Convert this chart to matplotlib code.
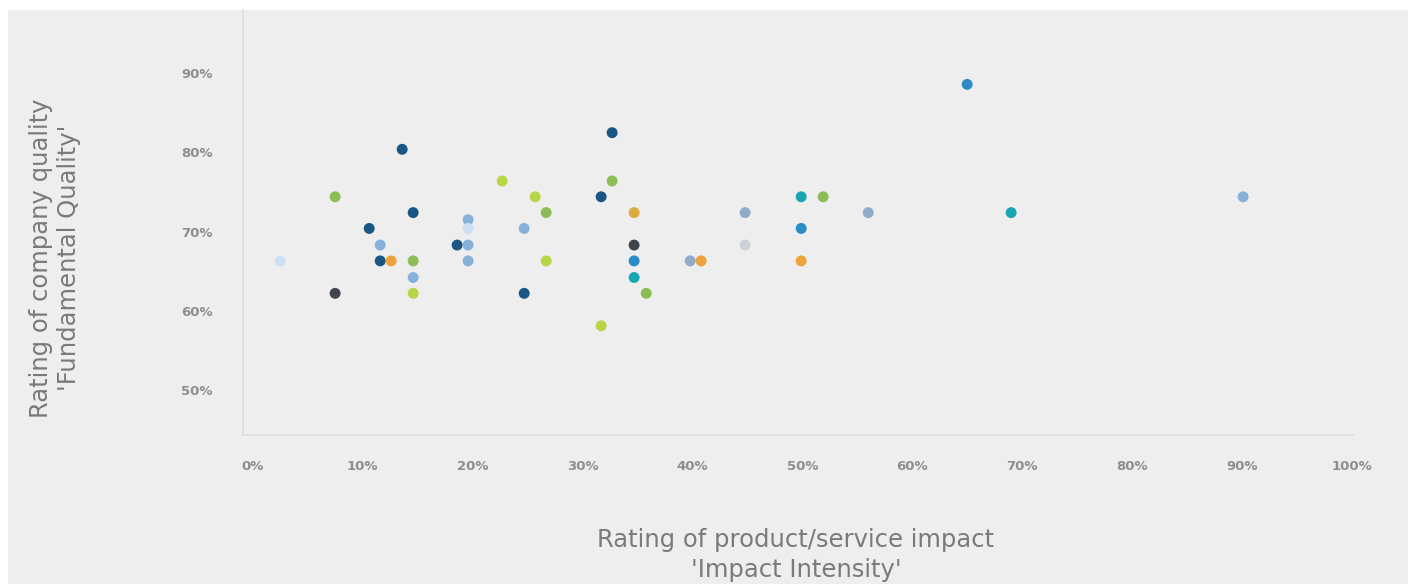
import matplotlib
matplotlib.use("Agg")
import matplotlib.pyplot as plt
from matplotlib.patches import Rectangle
from matplotlib.ticker import PercentFormatter

# Impact intensity (x, %) and fundamental quality (y, %) per company
impact = [2.5, 7.5, 7.5, 10.6, 11.6, 11.6, 12.6, 13.6, 14.6, 14.6, 14.6, 14.6,
          18.6, 19.6, 19.6, 19.6, 19.6, 22.7, 24.7, 24.7, 25.7, 26.7, 26.7,
          31.7, 31.7, 32.7, 32.7, 34.7, 34.7, 34.7, 34.7, 35.8, 39.8, 40.8,
          44.8, 44.8, 49.9, 51.9, 49.9, 49.9, 56.0, 65.0, 69.0, 90.1]
quality = [66.3, 74.4, 62.2, 70.4, 68.3, 66.3, 66.3, 80.4, 72.4, 66.3, 64.2, 62.2,
           68.3, 68.3, 71.5, 70.4, 66.3, 76.4, 70.4, 62.2, 74.4, 72.4, 66.3,
           74.4, 58.1, 82.5, 76.4, 72.4, 68.3, 66.3, 64.2, 62.2, 66.3, 66.3,
           72.4, 68.3, 74.4, 74.4, 70.4, 66.3, 72.4, 88.6, 72.4, 74.4]
group = ["pale", "green", "charcoal", "navy", "sky", "navy", "orange", "navy",
         "navy", "green", "sky", "lime", "navy", "sky", "sky", "pale", "sky",
         "lime", "sky", "navy", "lime", "green", "lime", "navy", "lime", "navy",
         "green", "gold", "charcoal", "blue", "teal", "green", "steel", "orange",
         "steel", "silver", "teal", "green", "blue", "orange", "steel", "blue",
         "teal", "sky"]

x_ticks = [0, 10, 20, 30, 40, 50, 60, 70, 80, 90, 100]
y_ticks = [50, 60, 70, 80, 90]

palette = {
    "navy": "#195683", "charcoal": "#3f444c", "green": "#8dbd55",
    "lime": "#b6d547", "sky": "#86b1da", "pale": "#cde0f2",
    "orange": "#eea23b", "gold": "#ddaa3c", "teal": "#17a6b2",
    "blue": "#2b8bc6", "steel": "#8eacc9", "silver": "#cbd1d8",
}

W, H = 1410, 584
fig = plt.figure(figsize=(W / 100, H / 100), dpi=100, facecolor="white")
fig.patches.append(Rectangle((8 / W, 0), 1400 / W, 574 / H,
                             transform=fig.transFigure, facecolor="#eeeeee",
                             edgecolor="none", zorder=-10))

ax = fig.add_axes([243 / W, (H - 435) / H, 1110 / W, 425 / H])
ax.set_facecolor("none")
ax.scatter(impact, quality, c=[palette[g] for g in group], s=62,
           linewidths=0, zorder=3)

ax.set_xlim(-0.88, 100.1)
ax.set_ylim(44.3, 98.0)
ax.set_xticks(x_ticks)
ax.set_yticks(y_ticks)
ax.xaxis.set_major_formatter(PercentFormatter(decimals=0))
ax.yaxis.set_major_formatter(PercentFormatter(decimals=0))
ax.tick_params(axis="both", length=0, labelsize=9.5, labelcolor="#8e8e8e")
ax.tick_params(axis="y", pad=22)
ax.tick_params(axis="x", pad=18)
for lbl in ax.get_xticklabels() + ax.get_yticklabels():
    lbl.set_fontweight("bold")

for side in ("top", "right"):
    ax.spines[side].set_visible(False)
for side in ("left", "bottom"):
    ax.spines[side].set_color("#dedede")
    ax.spines[side].set_linewidth(1.2)

title_style = dict(fontsize=17.5, color="#7a7a7a", ha="center", va="center",
                   multialignment="center")
fig.text(55 / W, 1 - 258 / H, "Rating of company quality\n'Fundamental Quality'",
         rotation=90, linespacing=1.25, **title_style)
fig.text(796 / W, 1 - 555 / H, "Rating of product/service impact\n'Impact Intensity'",
         linespacing=1.3, **title_style)

fig.savefig("out.png", dpi=100, facecolor=fig.get_facecolor())
